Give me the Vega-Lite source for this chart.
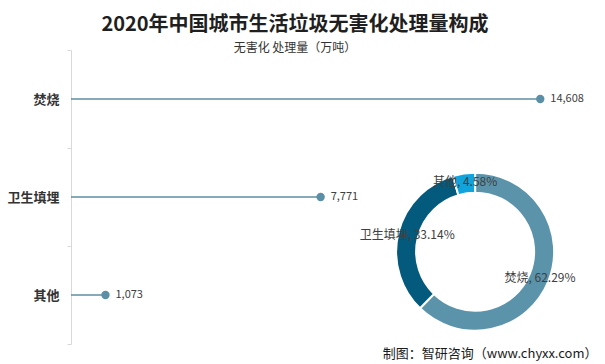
{
  "$schema": "https://vega.github.io/schema/vega-lite/v6.json",
  "width": 514,
  "height": 294,
  "autosize": {"type": "none"},
  "padding": {"left": 71, "top": 50, "right": 20, "bottom": 20},
  "background": "white",
  "title": {
    "text": "2020年中国城市生活垃圾无害化处理量构成",
    "subtitle": "无害化 处理量（万吨）",
    "anchor": "middle",
    "frame": "group",
    "dx": -33,
    "offset": -10,
    "fontSize": 20,
    "fontWeight": "bold",
    "font": "Noto Sans CJK SC",
    "color": "#1f1f1f",
    "subtitleFontSize": 12,
    "subtitleFont": "Noto Sans CJK SC",
    "subtitleColor": "#333333",
    "subtitlePadding": 8
  },
  "datasets": {
    "main": [
      {"cat": "焚烧", "value": 14608, "pct": 62.29, "idx": 1, "label": "焚烧, 62.29%"},
      {"cat": "卫生填埋", "value": 7771, "pct": 33.14, "idx": 2, "label": "卫生填埋, 33.14%"},
      {"cat": "其他", "value": 1073, "pct": 4.58, "idx": 3, "label": "其他, 4.58%"}
    ]
  },
  "layer": [
    {
      "data": {"name": "main"},
      "encoding": {
        "y": {
          "field": "cat",
          "type": "nominal",
          "sort": ["焚烧", "卫生填埋", "其他"],
          "scale": {"type": "band", "paddingInner": 0, "paddingOuter": 0},
          "axis": {
            "title": null,
            "domainColor": "#d9d9d9",
            "tickColor": "#d9d9d9",
            "tickSize": 4,
            "tickBand": "extent",
            "grid": false,
            "labelFontSize": 13,
            "labelFontWeight": "bold",
            "labelColor": "#333333",
            "labelPadding": 8,
            "labelFont": "Noto Sans CJK SC"
          }
        }
      },
      "layer": [
        {
          "mark": {"type": "rule", "color": "#5f8ea2", "strokeWidth": 1.5},
          "encoding": {
            "x": {
              "field": "value",
              "type": "quantitative",
              "scale": {"domain": [0, 16000]},
              "axis": {
                "labels": false,
                "ticks": false,
                "domain": false,
                "grid": false,
                "title": "制图：智研咨询（www.chyxx.com）",
                "titleX": 526,
                "titleY": 9,
                "titleAlign": "right",
                "titleBaseline": "middle",
                "titleFontSize": 13,
                "titleFontWeight": "normal",
                "titleColor": "#1a1a1a",
                "titleFont": "Noto Sans CJK SC"
              }
            },
            "x2": {"datum": 0}
          }
        },
        {
          "mark": {"type": "circle", "size": 70, "color": "#5b8fa6", "opacity": 1},
          "encoding": {"x": {"field": "value", "type": "quantitative"}}
        },
        {
          "mark": {"type": "text", "align": "left", "dx": 10, "fontSize": 11, "color": "#404040", "font": "Noto Sans CJK SC"},
          "encoding": {
            "x": {"field": "value", "type": "quantitative"},
            "text": {"field": "value", "type": "quantitative", "format": ","}
          }
        }
      ]
    },
    {
      "data": {"name": "main"},
      "encoding": {
        "x": {"datum": 12580, "type": "quantitative"},
        "y": {"datum": 0.314, "type": "quantitative", "scale": {"domain": [0, 1]}, "axis": null},
        "theta": {"field": "pct", "type": "quantitative", "stack": true},
        "order": {"field": "idx", "type": "quantitative"}
      },
      "layer": [
        {
          "mark": {"type": "arc", "outerRadius": 79, "innerRadius": 59, "stroke": "white", "strokeWidth": 2},
          "encoding": {
            "color": {
              "field": "cat",
              "type": "nominal",
              "scale": {"domain": ["焚烧", "卫生填埋", "其他"], "range": ["#5b93ab", "#045a7c", "#11a3dc"]},
              "legend": null
            }
          }
        },
        {
          "mark": {"type": "text", "radius": 70, "fontSize": 12, "color": "#404040", "font": "Noto Sans CJK SC"},
          "encoding": {"text": {"field": "label", "type": "nominal"}}
        }
      ]
    }
  ],
  "resolve": {"scale": {"y": "independent"}},
  "config": {"view": {"stroke": null}, "font": "Noto Sans CJK SC"}
}
